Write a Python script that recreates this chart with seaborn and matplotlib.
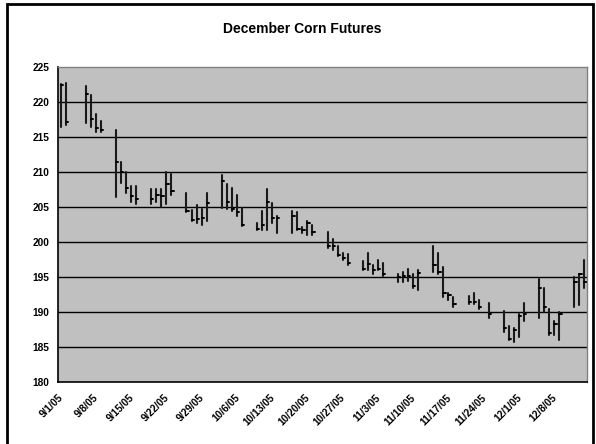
import matplotlib
matplotlib.use("Agg")
import matplotlib.pyplot as plt
import matplotlib.dates as mdates
import matplotlib.patches as mpatches
import seaborn as sns
import pandas as pd
import numpy as np

# ---- data ----
dates = ["2005-09-01", "2005-09-02", "2005-09-06", "2005-09-07", "2005-09-08", "2005-09-09",
         "2005-09-12", "2005-09-13", "2005-09-14", "2005-09-15", "2005-09-16",
         "2005-09-19", "2005-09-20", "2005-09-21", "2005-09-22", "2005-09-23",
         "2005-09-26", "2005-09-27", "2005-09-28", "2005-09-29", "2005-09-30",
         "2005-10-03", "2005-10-04", "2005-10-05", "2005-10-06", "2005-10-07",
         "2005-10-10", "2005-10-11", "2005-10-12", "2005-10-13", "2005-10-14",
         "2005-10-17", "2005-10-18", "2005-10-19", "2005-10-20", "2005-10-21",
         "2005-10-24", "2005-10-25", "2005-10-26", "2005-10-27", "2005-10-28",
         "2005-10-31", "2005-11-01", "2005-11-02", "2005-11-03", "2005-11-04",
         "2005-11-07", "2005-11-08", "2005-11-09", "2005-11-10", "2005-11-11",
         "2005-11-14", "2005-11-15", "2005-11-16", "2005-11-17", "2005-11-18",
         "2005-11-21", "2005-11-22", "2005-11-23", "2005-11-25",
         "2005-11-28", "2005-11-29", "2005-11-30", "2005-12-01", "2005-12-02",
         "2005-12-05", "2005-12-06", "2005-12-07", "2005-12-08", "2005-12-09",
         "2005-12-12", "2005-12-13", "2005-12-14"]
high = [222.6, 222.8, 222.3, 221.0, 218.3, 217.3,
        216.1, 211.5, 210.0, 208.0, 208.0,
        207.6, 207.6, 207.6, 210.0, 209.8,
        207.0, 204.6, 205.3, 204.7, 207.1,
        209.6, 208.3, 207.8, 206.8, 204.9,
        202.7, 204.5, 207.6, 205.6, 203.7,
        204.5, 204.3, 202.2, 203.0, 202.5,
        201.5, 200.5, 199.5, 198.5, 198.3,
        197.3, 198.5, 196.8, 197.5, 197.0,
        195.5, 195.8, 196.2, 195.5, 196.0,
        199.5, 198.5, 196.5, 192.7, 192.2,
        192.3, 192.7, 191.7, 191.3,
        190.2, 188.0, 187.7, 189.7, 191.3,
        194.8, 193.5, 190.5, 188.7, 190.0,
        195.0, 195.5, 197.5]
low = [216.4, 216.7, 217.0, 216.5, 215.7, 215.7,
       206.5, 208.5, 207.0, 205.7, 205.5,
       205.5, 205.7, 205.0, 205.5, 206.7,
       204.3, 203.0, 202.8, 202.5, 203.0,
       204.9, 204.7, 204.5, 203.7, 202.3,
       201.7, 201.7, 201.7, 202.7, 201.3,
       201.3, 201.7, 201.3, 201.0, 201.1,
       199.2, 198.9, 198.1, 197.5, 196.8,
       196.0, 196.0, 195.5, 196.0, 195.2,
       194.3, 194.3, 194.5, 193.5, 193.2,
       195.8, 195.5, 192.2, 191.7, 190.7,
       191.2, 191.2, 190.5, 189.2,
       187.2, 186.0, 185.7, 186.5, 188.7,
       189.2, 190.0, 186.7, 186.7, 186.0,
       190.7, 191.0, 193.5]
close = [222.4, 217.2, 221.2, 217.6, 216.3, 216.0,
         211.5, 210.1, 207.8, 206.6, 206.2,
         206.2, 206.8, 206.6, 208.3, 207.3,
         204.5, 203.2, 203.3, 203.5, 205.6,
         208.8, 205.8, 204.7, 204.3, 202.4,
         201.9, 202.5, 205.8, 203.5, 203.5,
         203.8, 201.9, 201.7, 202.8, 201.5,
         199.5, 199.5, 198.2, 197.8, 197.0,
         196.2, 196.9, 196.0, 196.2, 195.5,
         195.0, 195.2, 195.2, 193.8, 195.6,
         196.8, 195.8, 192.7, 192.5, 191.2,
         191.5, 191.5, 190.7, 189.7,
         187.7, 186.2, 187.5, 189.5, 189.7,
         193.5, 190.7, 187.0, 188.3, 189.7,
         194.3, 195.5, 194.3]
week_ticks = ["2005-09-01", "2005-09-08", "2005-09-15", "2005-09-22", "2005-09-29",
              "2005-10-06", "2005-10-13", "2005-10-20", "2005-10-27", "2005-11-03",
              "2005-11-10", "2005-11-17", "2005-11-24", "2005-12-01", "2005-12-08",
              "2005-12-15"]
tick_labels = ["9/1/05", "9/8/05", "9/15/05", "9/22/05", "9/29/05", "10/6/05",
               "10/13/05", "10/20/05", "10/27/05", "11/3/05", "11/10/05",
               "11/17/05", "11/24/05", "12/1/05", "12/8/05", ""]
title = "December Corn Futures"

# ---- build frames ----
xnum = mdates.date2num(pd.to_datetime(dates)) + 0.5   # centred in each day slot
ids = np.arange(len(xnum))
hl = pd.DataFrame({
    "x": np.concatenate([xnum, xnum]),
    "price": np.concatenate([high, low]),
    "bar": np.concatenate([ids, ids]),
})
cl = pd.DataFrame({
    "x": np.concatenate([xnum, xnum + 0.45]),
    "price": np.concatenate([close, close]),
    "bar": np.concatenate([ids, ids]),
})

sns.set_style("white")
plt.rcParams["font.family"] = ["Liberation Sans", "DejaVu Sans"]
plt.rcParams["text.color"] = "black"

fig = plt.figure(figsize=(5.96, 4.44), dpi=100)
ax = fig.add_axes([58 / 596, 1 - 382.3 / 444, (587 - 58) / 596, (382.3 - 67.3) / 444])
ax.set_facecolor("#C0C0C0")

sns.lineplot(data=hl, x="x", y="price", units="bar", estimator=None,
             color="#1a1a1a", lw=1.5, ax=ax, legend=False, sort=False)
sns.lineplot(data=cl, x="x", y="price", units="bar", estimator=None,
             color="#000000", lw=1.4, ax=ax, legend=False, sort=False)

tick_pos = mdates.date2num(pd.to_datetime(week_ticks))
ax.set_xlim(tick_pos[0], tick_pos[-1])
ax.set_ylim(180, 225)
ax.set_yticks(np.arange(180, 226, 5))
ax.set_xticks(tick_pos)
ax.set_xticklabels(tick_labels, rotation=45, ha="right", rotation_mode="anchor",
                   fontsize=7.3, fontweight="bold", color="black")
ax.set_yticklabels([str(v) for v in range(180, 226, 5)], fontsize=7.3,
                   fontweight="bold", color="black")
ax.grid(False)
for v in range(185, 225, 5):
    ax.axhline(v, color="black", lw=1.0, zorder=0.5)
ax.set_xlabel("")
ax.set_ylabel("")

ax.tick_params(axis="x", direction="inout", length=7, width=1, pad=4, colors="black")
ax.tick_params(axis="y", direction="out", length=4, width=1, pad=2, colors="black")
for s in ["left", "bottom"]:
    ax.spines[s].set_color("black")
    ax.spines[s].set_linewidth(1.2)
for s in ["top", "right"]:
    ax.spines[s].set_color("#808080")
    ax.spines[s].set_linewidth(1.0)

fig.text(302 / 596, 1 - 29 / 444, title, ha="center", va="center",
         fontsize=10, fontweight="bold", color="black")

# outer chart border
border = mpatches.Rectangle((7 / 596, -0.05), 586 / 596, 1.05 - 4 / 444,
                            transform=fig.transFigure, fill=False,
                            edgecolor="black", lw=2.0)
fig.patches.append(border)

fig.savefig("out.png", dpi=100)
